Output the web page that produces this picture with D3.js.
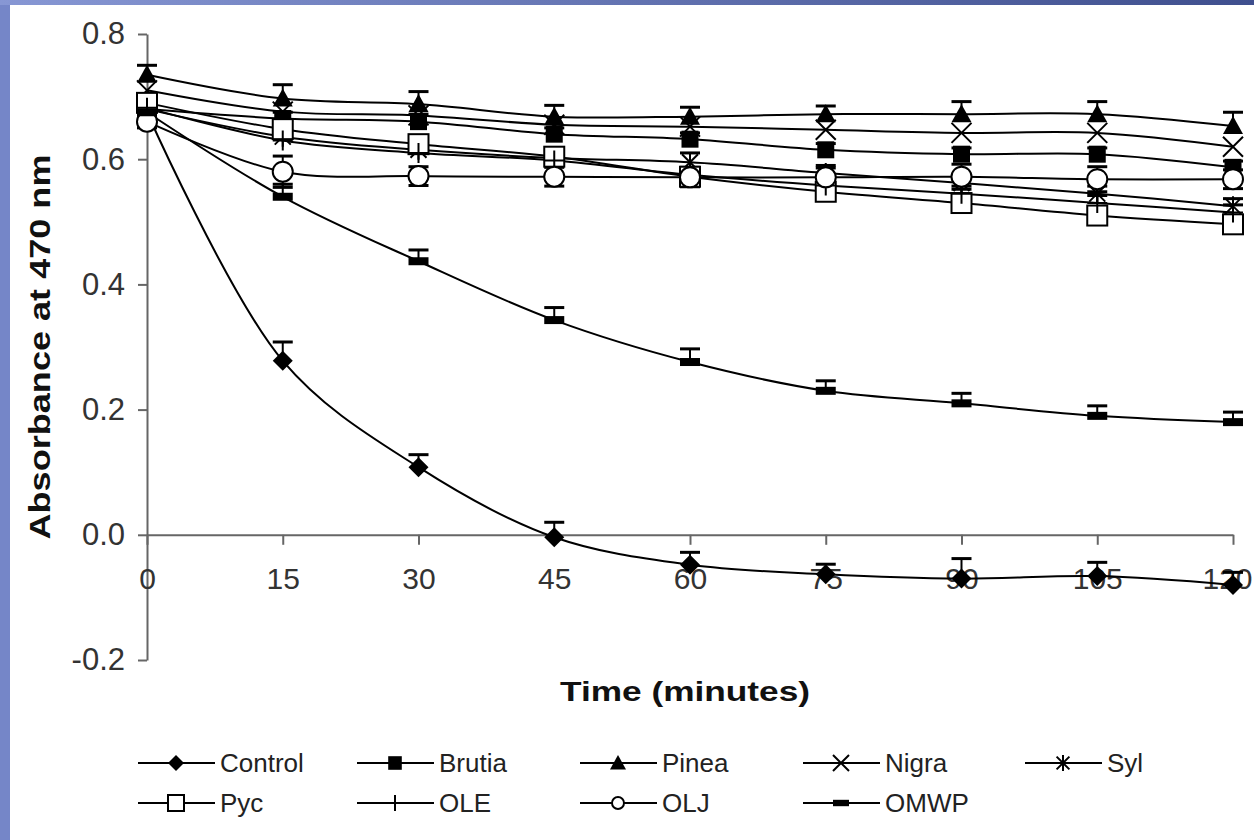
<!DOCTYPE html>
<html>
<head>
<meta charset="utf-8">
<script src="https://cdn.jsdelivr.net/npm/d3@7"></script>
<style>
  body { margin: 0; background: #fff; }
  svg { display: block; }
</style>
</head>
<body>
<div id="chart"></div>
<script>
// time points (minutes) and absorbance readings at 470 nm
const times = [0, 15, 30, 45, 60, 75, 90, 105, 120];

const control = [0.675, 0.278, 0.108, -0.004, -0.048, -0.063, -0.070, -0.066, -0.080];
const brutia  = [0.680, 0.665, 0.660, 0.640, 0.632, 0.615, 0.608, 0.608, 0.587];
const pinea   = [0.735, 0.697, 0.688, 0.668, 0.668, 0.672, 0.672, 0.672, 0.653];
const nigra   = [0.710, 0.676, 0.670, 0.655, 0.652, 0.647, 0.642, 0.642, 0.620];
const syl     = [0.680, 0.636, 0.615, 0.602, 0.595, 0.578, 0.562, 0.545, 0.525];
const pyc     = [0.690, 0.648, 0.624, 0.604, 0.572, 0.548, 0.530, 0.510, 0.496];
const ole     = [0.682, 0.630, 0.610, 0.598, 0.575, 0.558, 0.545, 0.530, 0.515];
const olj     = [0.660, 0.580, 0.573, 0.572, 0.571, 0.571, 0.572, 0.568, 0.568];
const omwp    = [0.675, 0.540, 0.437, 0.343, 0.276, 0.230, 0.210, 0.190, 0.180];

// error bar sizes (drawn upwards), 0 = no visible bar
const controlErr = [0.015, 0.030, 0.020, 0.024, 0.020, 0.016, 0.032, 0.022, 0.020];
const brutiaErr  = [0.010, 0.010, 0.012, 0.010, 0.010, 0.010, 0.010, 0.010, 0.010];
const pineaErr   = [0.015, 0.022, 0.020, 0.018, 0.015, 0.013, 0.020, 0.020, 0.022];
const nigraErr   = [0, 0, 0, 0, 0, 0, 0, 0, 0];
const sylErr     = [0.010, 0.010, 0.010, 0.010, 0.015, 0.012, 0.012, 0.012, 0.012];
const pycErr     = [0, 0, 0, 0, 0, 0, 0, 0, 0];
const oleErr     = [0.010, 0.012, 0.012, 0.010, 0.012, 0.012, 0.012, 0.012, 0.012];
const oljErr     = [0.010, 0.025, 0.015, 0.015, 0.015, 0.015, 0.020, 0.020, 0.015];
const omwpErr    = [0.012, 0.020, 0.018, 0.020, 0.021, 0.016, 0.016, 0.016, 0.016];

const yTicks = [-0.2, 0, 0.2, 0.4, 0.6, 0.8];

const series = [
  { name: "Control", values: control, err: controlErr, marker: "diamond" },
  { name: "Brutia",  values: brutia,  err: brutiaErr,  marker: "square" },
  { name: "Pinea",   values: pinea,   err: pineaErr,   marker: "triangle" },
  { name: "Nigra",   values: nigra,   err: nigraErr,   marker: "cross" },
  { name: "Syl",     values: syl,     err: sylErr,     marker: "star" },
  { name: "Pyc",     values: pyc,     err: pycErr,     marker: "openSquare" },
  { name: "OLE",     values: ole,     err: oleErr,     marker: "plus" },
  { name: "OLJ",     values: olj,     err: oljErr,     marker: "circle", both: true },
  { name: "OMWP",    values: omwp,    err: omwpErr,    marker: "dash" }
];

const W = 1254, H = 840;
const svg = d3.select("#chart").append("svg")
  .attr("width", W).attr("height", H);

// slide background peeking in at the left and top
const defs = svg.append("defs");
const gTop = defs.append("linearGradient").attr("id", "topGrad");
gTop.append("stop").attr("offset", "0%").attr("stop-color", "#8797d4");
gTop.append("stop").attr("offset", "100%").attr("stop-color", "#3f4f8e");
svg.append("rect").attr("width", W).attr("height", H).attr("fill", "#fff");
svg.append("rect").attr("x", 0).attr("y", 0).attr("width", 10).attr("height", H).attr("fill", "#7586c8");
svg.append("rect").attr("x", 0).attr("y", 0).attr("width", W).attr("height", 5).attr("fill", "url(#topGrad)");

const x = d3.scaleLinear().domain([0, 120]).range([147, 1233]);
const y = d3.scaleLinear().domain([-0.2, 0.8]).range([660, 34]);

const font = "'Liberation Sans', Arial, sans-serif";

// y axis (plain hyphen for negatives, like the original)
const yAxis = svg.append("g")
  .attr("transform", `translate(${x(0)},0)`)
  .call(d3.axisLeft(y).tickValues(yTicks).tickFormat(d => d.toFixed(1))
    .tickSize(9).tickSizeOuter(0).tickPadding(13));
yAxis.selectAll("text").attr("font-family", font).attr("font-size", 31).attr("fill", "#333");

// x axis sits on zero
const xAxis = svg.append("g")
  .attr("transform", `translate(0,${y(0)})`)
  .call(d3.axisBottom(x).tickValues(times).tickFormat(d3.format("d"))
    .tickSize(10).tickSizeOuter(0).tickPadding(23));
xAxis.selectAll("text").attr("font-family", font).attr("font-size", 30).attr("fill", "#333")
  .attr("dx", d => d === 120 ? -6 : 0);

svg.selectAll(".domain, .tick line").attr("stroke", "#666").attr("stroke-width", 2);

// titles
svg.append("text")
  .attr("x", 685).attr("y", 701)
  .attr("text-anchor", "middle")
  .attr("font-family", font).attr("font-weight", "bold").attr("font-size", 28)
  .attr("fill", "#111")
  .attr("textLength", 250).attr("lengthAdjust", "spacingAndGlyphs")
  .text("Time (minutes)");

svg.append("text")
  .attr("transform", "translate(50,347) rotate(-90)")
  .attr("text-anchor", "middle")
  .attr("font-family", font).attr("font-weight", "bold").attr("font-size", 29)
  .attr("fill", "#111")
  .attr("textLength", 385).attr("lengthAdjust", "spacingAndGlyphs")
  .text("Absorbance at 470 nm");

// marker drawing
function drawMarker(g, type, h) {
  const sw = 2;
  switch (type) {
    case "diamond":
      g.append("path").attr("d", `M0,${-h}L${h},0L0,${h}L${-h},0Z`).attr("fill", "#000");
      break;
    case "square":
      g.append("rect").attr("x", -h * 0.85).attr("y", -h * 0.85)
        .attr("width", h * 1.7).attr("height", h * 1.7).attr("fill", "#000");
      break;
    case "triangle":
      g.append("path").attr("d", `M0,${-h}L${h},${h * 0.8}L${-h},${h * 0.8}Z`).attr("fill", "#000");
      break;
    case "cross":
      g.append("path").attr("d", `M${-h},${-h}L${h},${h}M${h},${-h}L${-h},${h}`)
        .attr("stroke", "#000").attr("stroke-width", sw);
      break;
    case "star":
      g.append("path").attr("d", `M${-h * 0.8},${-h * 0.8}L${h * 0.8},${h * 0.8}M${h * 0.8},${-h * 0.8}L${-h * 0.8},${h * 0.8}M0,${-h}L0,${h}`)
        .attr("stroke", "#000").attr("stroke-width", sw);
      break;
    case "openSquare":
      g.append("rect").attr("x", -h).attr("y", -h)
        .attr("width", 2 * h).attr("height", 2 * h)
        .attr("fill", "#fff").attr("stroke", "#000").attr("stroke-width", sw);
      break;
    case "plus":
      g.append("path").attr("d", `M0,${-h}L0,${h}M${-h},0L${h},0`)
        .attr("stroke", "#000").attr("stroke-width", sw);
      break;
    case "circle":
      g.append("circle").attr("r", h)
        .attr("fill", "#fff").attr("stroke", "#000").attr("stroke-width", sw);
      break;
    case "dash":
      g.append("rect").attr("x", -h).attr("y", -h * 0.4)
        .attr("width", 2 * h).attr("height", h * 0.8).attr("fill", "#000");
      break;
  }
}

const line = d3.line()
  .x((d, i) => x(times[i]))
  .y(d => y(d))
  .curve(d3.curveCatmullRom.alpha(0.5));

const plot = svg.append("g");

// lines
plot.selectAll(".series-line")
  .data(series)
  .join("path")
  .attr("class", "series-line")
  .attr("d", s => line(s.values))
  .attr("fill", "none")
  .attr("stroke", "#000")
  .attr("stroke-width", 2);

// error bars
series.forEach(s => {
  const eg = plot.append("g");
  s.values.forEach((v, i) => {
    const e = s.err[i];
    if (!e) return;
    const cx = x(times[i]);
    const top = y(v + e);
    const bot = s.both ? y(v - e) : y(v);
    eg.append("line").attr("x1", cx).attr("x2", cx).attr("y1", top).attr("y2", bot)
      .attr("stroke", "#000").attr("stroke-width", 2);
    eg.append("line").attr("x1", cx - 10).attr("x2", cx + 10).attr("y1", top).attr("y2", top)
      .attr("stroke", "#000").attr("stroke-width", 3);
    if (s.both) {
      eg.append("line").attr("x1", cx - 10).attr("x2", cx + 10).attr("y1", bot).attr("y2", bot)
        .attr("stroke", "#000").attr("stroke-width", 3);
    }
  });
});

// markers
series.forEach(s => {
  s.values.forEach((v, i) => {
    const mg = plot.append("g").attr("transform", `translate(${x(times[i])},${y(v)})`);
    drawMarker(mg, s.marker, 10);
  });
});

// legend: two rows, five columns
const legCols = [138, 357, 580, 803, 1025];
const legRows = [763, 803];
series.forEach((s, i) => {
  const col = i % 5, row = Math.floor(i / 5);
  const lg = svg.append("g").attr("transform", `translate(${legCols[col]},${legRows[row]})`);
  lg.append("line").attr("x1", 0).attr("x2", 77).attr("y1", 0).attr("y2", 0)
    .attr("stroke", "#000").attr("stroke-width", 2);
  const mg = lg.append("g").attr("transform", "translate(38,0)");
  drawMarker(mg, s.marker, s.marker === "circle" ? 6 : 8);
  lg.append("text")
    .attr("x", 82).attr("y", 0).attr("dy", "0.35em")
    .attr("font-family", font).attr("font-size", 26).attr("fill", "#222")
    .text(s.name);
});
</script>
</body>
</html>
